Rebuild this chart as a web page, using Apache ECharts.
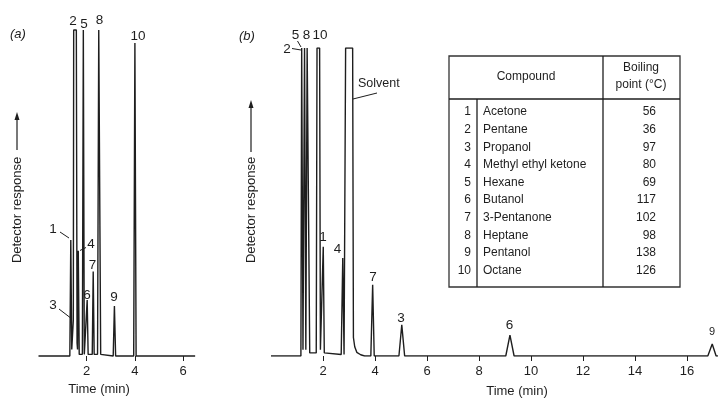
<!DOCTYPE html>
<html>
<head>
<meta charset="utf-8">
<script src="https://cdn.jsdelivr.net/npm/echarts@6/dist/echarts.min.js"></script>
<style>
html,body{margin:0;padding:0;background:#fff;}
#chart{width:718px;height:398px;}
</style>
</head>
<body>
<div id="chart"></div>
<script>
// ---------- DATA ----------
// Panel (a): detector trace, time in minutes, response in % of full scale
const timeA = [0, 1.30, 1.34, 1.38, 1.42, 1.445, 1.46, 1.57, 1.60, 1.62, 1.65, 1.69, 1.82, 1.86, 1.90, 1.98, 2.02, 2.06, 2.23, 2.27, 2.31, 2.45, 2.50, 2.54, 2.58, 3.10, 3.15, 3.20, 3.95, 4.00, 4.05, 6.5];
const respA = [0, 0, 35.6, 2, 2, 11, 100, 100, 4, 2, 32.3, 0.5, 0.5, 100, 0.5, 0.5, 17.2, 0.5, 0.5, 25.9, 0.5, 0.5, 100, 100, 0.5, 0, 15.3, 0, 0, 96, 0, 0];
// Panel (b)
const timeB = [0, 1.15, 1.18, 1.20, 1.23, 1.26, 1.29, 1.31, 1.34, 1.36, 1.39, 1.46, 1.49, 1.74, 1.77, 1.87, 1.90, 1.97, 2.01, 2.05, 2.70, 2.76, 2.81, 2.85, 2.87, 3.14, 3.17, 3.22, 3.30, 3.45, 3.60, 3.84, 3.91, 3.97, 4.92, 5.03, 5.14, 9.03, 9.19, 9.35, 16.80, 16.97, 17.12, 17.19];
const respB = [0, 0, 100, 100, 2, 2, 100, 100, 2, 2, 100, 100, 1, 1, 100, 100, 2, 2, 35.5, 1, 0.5, 31.8, 0.5, 0.5, 100, 100, 6, 3, 1.2, 0.4, 0, 0, 23.1, 0, 0, 10.1, 0, 0, 6.8, 0, 0, 3.9, 0, 0];
const ticksA = [2, 4, 6];
const ticksB = [2, 4, 6, 8, 10, 12, 14, 16];
const peakLabelsA = ['2', '5', '8', '10', '1', '4', '7', '6', '9', '3'];
const peakLabelsB = ['5', '8', '10', '2', '1', '4', '7', '3', '6', '9'];
const compoundNo = ['1', '2', '3', '4', '5', '6', '7', '8', '9', '10'];
const compoundName = ['Acetone', 'Pentane', 'Propanol', 'Methyl ethyl ketone', 'Hexane', 'Butanol', '3-Pentanone', 'Heptane', 'Pentanol', 'Octane'];
const boilingPoint = [56, 36, 97, 80, 69, 117, 102, 98, 138, 126];

// ---------- LAYOUT ----------
const FONT = '"Liberation Sans", Arial, Helvetica, sans-serif';
const INK = '#1e1e1e';
const labelPosA = [[73, 21], [84, 24], [99.5, 20], [138, 36], [53, 229], [91, 244], [92.5, 265], [87, 295], [114, 297], [53, 305]];
const labelPosB = [[295.5, 35], [306.5, 35], [320, 35], [287, 49], [323, 237], [337.5, 249.5], [373, 277], [401, 318.5], [509.5, 325], [712, 332]];
const leaders = [
  [60, 232, 69, 238], [59, 309, 72, 319], [86, 247.5, 80, 250.5],
  [292, 48.5, 301, 50], [297.5, 41, 301, 47], [377, 93, 353, 99]
];

const chart = echarts.init(document.getElementById('chart'), null, {renderer: 'canvas'});

const graphics = [];
function txt(x, y, s, size, opts) {
  graphics.push(Object.assign({
    type: 'text', x: x, y: y, silent: true,
    style: Object.assign({text: s, fill: INK, font: size + 'px ' + FONT, textAlign: 'center', textVerticalAlign: 'middle'}, (opts && opts.style) || {})
  }, (opts && opts.el) || {}));
}
function line(x1, y1, x2, y2, w) {
  graphics.push({type: 'line', silent: true, shape: {x1: x1, y1: y1, x2: x2, y2: y2}, style: {stroke: INK, lineWidth: w || 1}});
}

peakLabelsA.forEach((s, i) => txt(labelPosA[i][0], labelPosA[i][1], s, 13.5));
peakLabelsB.forEach((s, i) => txt(labelPosB[i][0], labelPosB[i][1], s, i === 9 ? 11 : 13.5));
leaders.forEach(l => line(l[0], l[1], l[2], l[3], 1));
txt(358, 84, 'Solvent', 12.5, {style: {textAlign: 'left'}});

// panel letters
graphics.push({type: 'text', x: 10, y: 34, style: {text: '(a)', fill: INK, font: 'italic 13px ' + FONT, textVerticalAlign: 'middle'}});
graphics.push({type: 'text', x: 239, y: 36, style: {text: '(b)', fill: INK, font: 'italic 13px ' + FONT, textVerticalAlign: 'middle'}});

// axis titles
txt(99, 389, 'Time (min)', 13);
txt(517, 391, 'Time (min)', 13);
[[17, 150, 112], [251, 152, 100]].forEach(([x, yb, yt]) => {
  txt(x, 210, 'Detector response', 13, {el: {rotation: Math.PI / 2}});
  line(x, yb, x, yt + 6, 1.2);
  graphics.push({type: 'polygon', silent: true, shape: {points: [[x, yt], [x - 2.5, yt + 8], [x + 2.5, yt + 8]]}, style: {fill: INK}});
});

// table
const TL = 449, TR = 680, TT = 56, TB = 287, HY = 99, C1 = 477, C2 = 603;
graphics.push({type: 'rect', silent: true, shape: {x: TL, y: TT, width: TR - TL, height: TB - TT}, style: {fill: 'none', stroke: '#333', lineWidth: 1.3}});
line(TL, HY, TR, HY, 1.3);
line(C2, TT, C2, TB, 1.3);
line(C1, HY, C1, TB, 1.3);
txt((TL + C2) / 2, 77, 'Compound', 12);
txt(641, 68, 'Boiling', 12);
txt(641, 85, 'point (°C)', 12);
compoundName.forEach((n, i) => {
  const y = 112 + i * 17.6;
  txt(471, y, compoundNo[i], 12, {style: {textAlign: 'right'}});
  txt(483, y, n, 12, {style: {textAlign: 'left'}});
  txt(656, y, String(boilingPoint[i]), 12, {style: {textAlign: 'right'}});
});

function xAxisCfg(gi, max, ticks) {
  return {
    type: 'value', gridIndex: gi, min: 0, max: max, offset: 3,
    axisLine: {show: false}, splitLine: {show: false},
    axisTick: {show: true, length: 5, customValues: ticks, lineStyle: {color: INK, width: 1}},
    axisLabel: {show: true, customValues: ticks, margin: 6, color: INK, fontSize: 13, fontFamily: FONT}
  };
}

chart.setOption({
  animation: false,
  backgroundColor: '#ffffff',
  grid: [
    {left: 38.5, top: 30, width: 6.5 * 24.1, bottom: 42},
    {left: 271, top: 48, width: 447, bottom: 42}
  ],
  xAxis: [xAxisCfg(0, 6.5, ticksA), xAxisCfg(1, 447 / 26, ticksB)],
  yAxis: [
    {type: 'value', gridIndex: 0, min: 0, max: 100, show: false},
    {type: 'value', gridIndex: 1, min: 0, max: 100, show: false}
  ],
  series: [
    {type: 'line', xAxisIndex: 0, yAxisIndex: 0, showSymbol: false, clip: false,
     lineStyle: {color: INK, width: 1.4}, data: timeA.map((t, i) => [t, respA[i]])},
    {type: 'line', xAxisIndex: 1, yAxisIndex: 1, showSymbol: false, clip: true,
     lineStyle: {color: INK, width: 1.4}, data: timeB.map((t, i) => [t, respB[i]])}
  ],
  graphic: graphics
});
</script>
</body>
</html>
